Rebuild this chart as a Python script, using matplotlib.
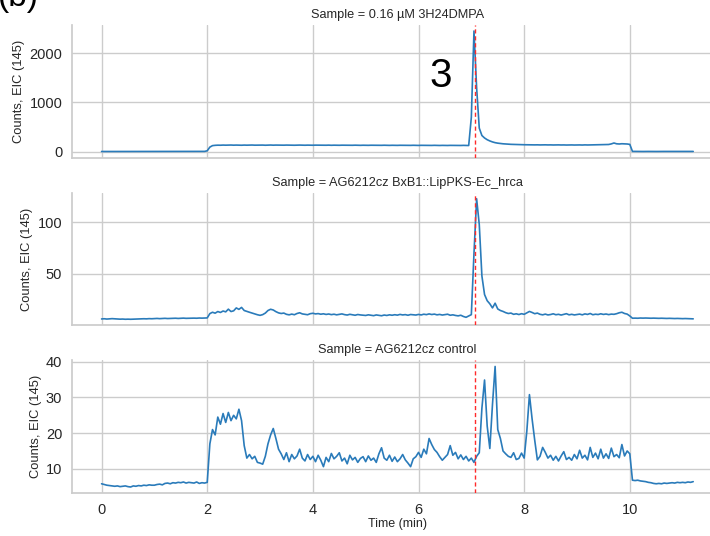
import numpy as np
import matplotlib.pyplot as plt
import seaborn as sns

# extracted ion chromatograms, m/z 145, one value every 0.05 min from t = 0
scan_step = 0.05

samples = ["0.16 \u00b5M 3H24DMPA",
           "AG6212cz BxB1::LipPKS-Ec_hrca",
           "AG6212cz control"]

eic_standard = [
    6, 7, 6, 5, 6, 7, 6, 6, 5, 6, 7, 6, 6, 5, 6, 6, 7, 6, 5, 6,
    6, 7, 6, 6, 5, 6, 7, 6, 6, 5, 6, 6, 7, 6, 5, 6, 7, 6, 6, 8,
    20, 95, 125, 131, 134, 133, 136, 134, 135, 137, 134, 136, 135, 133, 136, 134, 135, 137, 134, 135,
    134, 136, 133, 135, 137, 134, 136, 135, 133, 134, 136, 135, 134, 133, 135, 136, 134, 133, 135, 134,
    133, 135, 134, 132, 134, 133, 135, 132, 134, 133, 132, 134, 133, 131, 133, 132, 134, 132, 131, 133,
    132, 131, 133, 132, 130, 132, 131, 133, 131, 130, 132, 131, 130, 132, 131, 129, 131, 130, 132, 130,
    129, 131, 130, 128, 130, 129, 131, 129, 128, 130, 129, 128, 130, 129, 127, 129, 128, 130, 128, 127,
    700, 2450, 1300, 480, 330, 280, 245, 220, 200, 185, 175, 168, 162, 158, 154, 151, 149, 147, 145, 144,
    143, 142, 141, 142, 140, 141, 139, 140, 141, 139, 140, 138, 139, 140, 138, 139, 137, 138, 139, 137,
    138, 139, 137, 140, 138, 139, 141, 140, 142, 143, 142, 144, 148, 160, 178, 162, 158, 163, 160, 158,
    150, 8, 7, 6, 7, 6, 7, 7, 6, 7, 6, 7, 6, 7, 7, 6, 7, 6, 7, 6,
    7, 6, 7, 6, 7,
]

eic_lippks = [
    6.3, 6.5, 6.2, 6.4, 6.6, 6.4, 6.3, 6.1, 6.2, 6.0, 6.1, 6.0, 6.1, 6.2, 6.4, 6.3, 6.5, 6.4, 6.6, 6.5,
    6.7, 6.8, 6.6, 6.7, 6.9, 6.7, 6.8, 6.9, 7.0, 6.8, 6.9, 7.1, 6.9, 7.0, 7.2, 7.1, 7.0, 7.2, 7.1, 7.2,
    7.3, 11.5, 12.8, 11.9, 13.5, 12.6, 14.0, 13.2, 15.8, 13.5, 14.2, 17.0, 15.6, 17.5, 14.5, 13.6, 12.8, 12.0, 11.2, 10.4,
    9.8, 10.5, 12.0, 14.5, 15.7, 15.0, 13.4, 12.2, 11.6, 12.0, 10.8, 10.3, 11.0, 10.4, 11.6, 12.3, 11.2, 10.8, 10.4, 11.4,
    11.8, 11.2, 11.5, 10.9, 11.3, 10.7, 11.1, 10.5, 10.9, 10.3, 10.7, 11.2, 10.5, 10.1, 10.8, 10.3, 9.9, 10.6, 10.2, 10.0,
    9.7, 10.3, 9.9, 9.5, 10.2, 9.8, 9.4, 10.1, 9.7, 10.3, 9.9, 10.4, 10.0, 10.7, 10.2, 10.5, 9.9, 10.6, 10.3, 10.1,
    10.7, 10.2, 10.9, 10.5, 11.2, 10.6, 11.0, 10.3, 10.7, 10.1, 10.5, 10.9, 9.9, 10.3, 9.7, 9.3, 9.9, 8.7, 7.9, 9.2,
    10.5, 70.0, 123.0, 98.0, 48.0, 30.0, 24.0, 21.0, 17.0, 21.6, 16.0, 14.5, 13.6, 12.4, 11.6, 12.0, 10.8, 11.3, 10.6, 11.4,
    10.8, 12.2, 13.6, 12.6, 11.4, 12.0, 10.8, 10.3, 11.0, 10.2, 10.6, 11.3, 10.4, 10.8, 10.1, 10.7, 11.4, 10.3, 10.8, 10.2,
    10.6, 11.0, 10.3, 11.2, 10.7, 11.6, 10.4, 10.9, 10.6, 11.3, 10.7, 11.1, 10.5, 11.0, 10.8, 11.4, 12.3, 12.8, 11.6, 11.0,
    9.2, 7.0, 7.1, 7.0, 7.2, 7.1, 7.2, 7.1, 7.0, 7.1, 7.0, 6.9, 7.0, 6.9, 6.8, 6.9, 6.8, 6.7, 6.8, 6.7,
    6.6, 6.7, 6.6, 6.5, 6.4,
]

eic_control = [
    5.8, 5.6, 5.4, 5.3, 5.2, 5.1, 5.2, 5.0, 5.1, 5.2, 5.0, 4.9, 5.2, 5.1, 5.3, 5.2, 5.4, 5.3, 5.5, 5.4,
    5.4, 5.6, 5.7, 5.5, 5.9, 6.0, 5.8, 6.1, 6.0, 6.2, 6.1, 6.3, 6.0, 6.2, 6.1, 6.0, 6.3, 5.9, 6.1, 6.0,
    6.2, 17.0, 21.0, 19.5, 24.5, 22.5, 25.5, 23.0, 25.8, 23.5, 25.0, 24.0, 26.7, 23.5, 16.5, 13.0, 14.0, 12.8, 13.5, 11.8,
    11.6, 11.3, 13.5, 17.0, 19.5, 21.3, 18.5, 15.5, 14.2, 12.6, 14.5, 12.0, 14.0, 12.8, 13.6, 15.5, 13.0, 12.2, 14.0, 12.6,
    13.5, 12.0, 13.8, 12.4, 10.6, 13.2, 12.0, 14.3, 12.8, 13.5, 14.5, 12.2, 13.0, 11.4, 13.8, 12.5, 13.2, 11.8, 12.9, 13.4,
    12.0, 13.6, 12.4, 13.0, 11.8, 14.2, 15.9, 13.0, 12.4, 13.8, 12.1, 13.3, 12.0, 12.8, 14.0, 12.5, 11.6, 10.6, 12.8, 13.4,
    14.6, 13.2, 15.5, 14.2, 18.5, 16.8, 15.4, 14.6, 13.4, 12.4, 13.2, 14.0, 16.5, 13.8, 14.6, 12.8, 13.9, 12.6, 13.5, 12.2,
    13.0, 11.8, 13.5, 14.5, 27.0, 34.9, 22.0, 15.7, 28.0, 38.7, 21.0, 18.5, 15.0, 14.2, 13.5, 13.2, 14.5, 12.6, 12.9, 14.4,
    13.0, 20.5, 30.8, 24.0, 18.0, 12.5, 13.5, 16.0, 14.6, 13.0, 13.8, 12.4, 13.5, 12.2, 13.6, 14.8, 12.6, 13.2, 12.4, 14.0,
    12.8, 15.2, 13.0, 13.8, 12.5, 16.0, 13.2, 14.4, 12.8, 15.5, 13.0, 14.2, 12.9, 15.8, 13.4, 14.0, 13.1, 16.8, 13.6, 15.0,
    14.2, 6.8, 6.7, 6.8, 6.6, 6.5, 6.4, 6.2, 6.1, 5.9, 5.8, 5.9, 5.8, 6.0, 5.9, 6.0, 6.1, 6.0, 6.2, 6.1,
    6.2, 6.1, 6.3, 6.2, 6.4,
]

traces = [eic_standard, eic_lippks, eic_control]
yticks = [[0, 1000, 2000], [50, 100], [10, 20, 30, 40]]
rt_marker = 7.06   # retention time of compound 3

time = np.round(np.arange(len(eic_standard)) * scan_step, 2)

# styling
sns.set_style("whitegrid")
plt.rcParams['font.family'] = ['Liberation Sans', 'DejaVu Sans']

fig, axes = plt.subplots(3, 1, sharex=True, figsize=(7.1, 5.36), dpi=100)
fig.subplots_adjust(left=0.1014, right=1.018, top=0.9534, bottom=0.0802, hspace=0.265)

for ax, name, y, ticks in zip(axes, samples, traces, yticks):
    ax.plot(time, y, color='#2a7bba', lw=1.2, zorder=2)
    ax.axvline(rt_marker, color='#ff2a2a', ls=(0, (3, 2)), lw=1.0, zorder=3)
    ax.set_title('Sample = ' + name, fontsize=9.2, color='.15', pad=5)
    ax.set_ylabel('Counts, EIC (145)', fontsize=9.3, color='.15', labelpad=3)
    ax.set_yticks(ticks)
    ax.tick_params(labelsize=10.5, colors='.15', pad=7, length=0)
    for side in ['top', 'right']:
        ax.spines[side].set_visible(False)
    for side in ['left', 'bottom']:
        ax.spines[side].set_color('.8')
        ax.spines[side].set_linewidth(1.25)
    ax.grid(True, color='.8', lw=1)

axes[0].set_xlim(-0.56, 11.76)
axes[2].set_xticks([0, 2, 4, 6, 8, 10])
axes[2].set_xlabel('Time (min)', fontsize=9, color='.15', labelpad=1)

axes[0].text(6.42, 1540, '3', fontsize=29, color='black', ha='center', va='center')
fig.text(-0.003, 0.9885, '(b)', fontsize=24, color='black', va='baseline')

plt.savefig('out.png')
